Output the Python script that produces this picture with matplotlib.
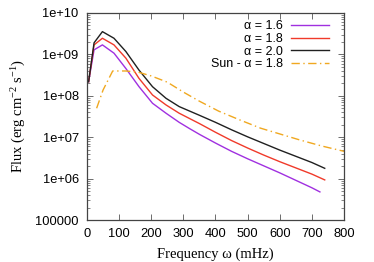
import matplotlib
matplotlib.use("Agg")
import matplotlib.pyplot as plt
import numpy as np
from matplotlib.ticker import FixedLocator, LogLocator, NullFormatter

plt.rcParams['mathtext.fontset'] = 'custom'
plt.rcParams['mathtext.rm'] = 'Liberation Serif'
plt.rcParams['mathtext.it'] = 'Liberation Serif:italic'

# Data (log10 of flux)
freq_black = [5, 22, 48, 84, 121, 162, 204, 246, 287, 350, 400, 450, 500, 550, 600, 650, 700, 740]
logflux_a20 = [8.34, 9.28, 9.55, 9.39, 9.07, 8.62, 8.22, 7.94, 7.74, 7.53, 7.36, 7.18, 7.01, 6.85, 6.69, 6.54, 6.39, 6.25]
freq_red = [5, 22, 48, 84, 121, 162, 204, 246, 287, 350, 400, 450, 500, 550, 600, 650, 700, 740]
logflux_a18 = [8.34, 9.23, 9.39, 9.23, 8.91, 8.42, 8.02, 7.78, 7.58, 7.33, 7.12, 6.92, 6.74, 6.57, 6.41, 6.26, 6.11, 5.97]
freq_purple = [5, 22, 48, 84, 121, 162, 204, 246, 287, 319, 350, 400, 450, 500, 550, 600, 650, 700, 725]
logflux_a16 = [8.34, 9.11, 9.23, 9.03, 8.66, 8.22, 7.82, 7.58, 7.36, 7.21, 7.07, 6.86, 6.66, 6.48, 6.31, 6.14, 5.96, 5.78, 5.68]
freq_sun = [30, 50, 80, 120, 160, 200, 250, 300, 350, 410, 475, 540, 600, 660, 730, 800]
logflux_sun = [7.70, 8.14, 8.60, 8.60, 8.57, 8.48, 8.33, 8.09, 7.87, 7.63, 7.42, 7.22, 7.08, 6.94, 6.79, 6.66]

labels = ["α = 1.6", "α = 1.8", "α = 2.0", "Sun - α = 1.8"]
xticks = [0, 100, 200, 300, 400, 500, 600, 700, 800]
ytick_vals = [1e5, 1e6, 1e7, 1e8, 1e9, 1e10]
ytick_labels = ["100000", "1e+06", "1e+07", "1e+08", "1e+09", "1e+10"]

fig = plt.figure(figsize=(3.74, 2.62), dpi=100)
ax = fig.add_axes([0.2326, 0.160, 0.6872, 0.7904])

ax.plot(freq_purple, 10**np.array(logflux_a16), color='#a030e0', lw=1.0, label=labels[0])
ax.plot(freq_red, 10**np.array(logflux_a18), color='#f03a2a', lw=1.0, label=labels[1])
ax.plot(freq_black, 10**np.array(logflux_a20), color='#202020', lw=1.0, label=labels[2])
ax.plot(freq_sun, 10**np.array(logflux_sun), color='#f0a820', lw=1.0, ls=(0, (6, 2.5, 1, 2.5)), label=labels[3])

ax.set_yscale('log')
ax.set_xlim(0, 800)
ax.set_ylim(1e5, 1e10)
ax.xaxis.set_major_locator(FixedLocator(xticks))
ax.set_xticklabels([str(v) for v in xticks], family='Liberation Sans', fontsize=9.3)
ax.yaxis.set_major_locator(FixedLocator(ytick_vals))
ax.set_yticklabels(ytick_labels, family='Liberation Sans', fontsize=9.3)
ax.yaxis.set_minor_locator(LogLocator(base=10, subs=np.arange(2, 10)))
ax.yaxis.set_minor_formatter(NullFormatter())
ax.tick_params(which='both', direction='in', top=True, right=True, color='#555555')
ax.tick_params(which='major', length=4, width=0.6, pad=6)
ax.tick_params(which='minor', length=2, width=0.5)
for s in ax.spines.values():
    s.set_color('#444444')
    s.set_linewidth(0.9)

ax.set_xlabel("Frequency ω (mHz)", family='Liberation Serif', fontsize=10.5, labelpad=5)
ax.set_ylabel("Flux (erg cm$^{-2}$ s$^{-1}$)", family='Liberation Serif', fontsize=10.5, labelpad=5)

leg = ax.legend(loc='upper right', frameon=False, markerfirst=False,
                prop={'family': 'Liberation Sans', 'size': 9},
                handlelength=3.0, handletextpad=0.7, labelspacing=0.05,
                borderaxespad=0.2, bbox_to_anchor=(0.97, 1.0))
for t in leg.get_texts():
    t.set_ha('right')

fig.savefig("out.png", dpi=100)
